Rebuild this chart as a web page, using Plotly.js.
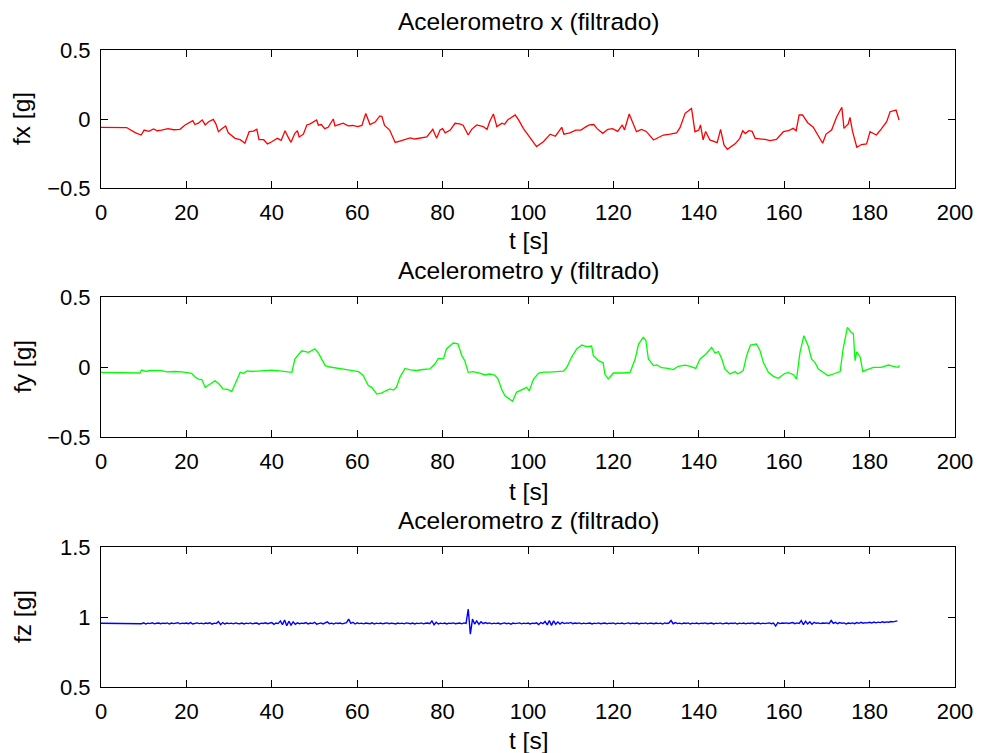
<!DOCTYPE html>
<html>
<head>
<meta charset="utf-8">
<script src="https://cdn.plot.ly/plotly-3.0.1.min.js"></script>
<style>
  html, body { margin: 0; padding: 0; background: #fff; }
  #chart { width: 984px; height: 753px; }
</style>
</head>
<body>
<div id="chart"></div>
<script>
// Filtered accelerometer readings, three axes, time in seconds.

// x axis: sample times and values [g]
const tX = [0,3,6,8,9.4,10.1,11.2,12.3,13.2,14.2,15.7,17,18.5,19.7,20.6,21.5,22,22.8,23.7,24.4,25.2,26.3,26.9,27.5,28.3,29.2,29.8,31.4,32.6,33.7,34.7,35.7,36.5,37,38.1,39,40,41.3,42.2,43.1,43.8,44.5,45.4,46,46.4,47.4,48.2,49,50.5,50.9,51.6,52.4,53.2,54.4,54.8,55.8,56.7,57.9,59,60.1,61.1,62,63,64.2,65.3,65.8,66.4,67.6,68.9,70,71.2,72.4,73.5,74.7,76.3,77.7,78.6,79.4,80,80.6,81.8,82.9,84,84.8,86,86.8,88,89.5,90.4,91,91.9,92.7,93.9,94.5,95.3,97,97.8,98.9,100.5,102,103.6,105.2,106.4,107.2,107.9,108.4,109.8,111.2,112.4,113.6,114.4,115.4,116.2,117.5,118.7,119.8,121,122.1,122.6,123.7,124.6,125.4,126.6,127.7,129.4,130.6,131.7,133.3,134.8,135.6,136.8,138.3,139.1,140,140.4,141,141.6,142.6,144.3,145.1,145.9,146.7,147.7,148.5,149.6,150.3,150.9,151.7,152.5,153.2,155.5,156.7,158.2,159,159.8,161,162.1,162.8,163.5,164.3,165.5,166.8,168,169,169.8,171.1,172.3,172.9,173.5,174,175,175.4,176,177,178.1,179.3,180.1,180.9,181.6,182.8,184,184.8,186.2,186.9];
const fx = [-0.06,-0.06,-0.062,-0.099,-0.116,-0.08,-0.09,-0.072,-0.085,-0.08,-0.07,-0.078,-0.075,-0.043,-0.03,-0.012,-0.04,-0.03,-0.007,-0.043,-0.02,-0.003,-0.035,-0.092,-0.07,-0.05,-0.1,-0.14,-0.15,-0.176,-0.092,-0.088,-0.075,-0.15,-0.15,-0.18,-0.165,-0.14,-0.155,-0.085,-0.13,-0.169,-0.104,-0.085,-0.13,-0.11,-0.043,-0.035,-0.007,-0.045,-0.04,-0.07,-0.06,0.0,-0.05,-0.04,-0.03,-0.05,-0.047,-0.055,-0.047,0.04,-0.04,-0.022,0.022,0.018,-0.047,-0.08,-0.17,-0.16,-0.147,-0.137,-0.145,-0.14,-0.13,-0.075,-0.14,-0.08,-0.07,-0.1,-0.08,-0.031,-0.035,-0.045,-0.116,-0.075,-0.043,-0.055,-0.075,-0.02,0.036,-0.055,-0.03,-0.038,-0.006,0.029,-0.006,-0.068,-0.14,-0.2,-0.165,-0.11,-0.125,-0.085,-0.06,-0.11,-0.1,-0.08,-0.08,-0.055,-0.043,-0.04,-0.07,-0.104,-0.075,-0.07,-0.09,-0.043,-0.08,0.036,-0.03,-0.092,-0.075,-0.09,-0.152,-0.13,-0.116,-0.11,-0.1,-0.063,0.041,0.077,-0.092,-0.08,-0.043,-0.152,-0.09,-0.152,-0.171,-0.075,-0.188,-0.22,-0.195,-0.18,-0.14,-0.085,-0.105,-0.085,-0.09,-0.14,-0.148,-0.157,-0.148,-0.116,-0.092,-0.085,-0.068,-0.085,0.029,0.029,-0.027,-0.06,-0.128,-0.176,-0.109,-0.08,0.017,0.053,0.085,-0.068,-0.035,0.012,-0.09,-0.205,-0.185,-0.181,-0.092,-0.105,-0.116,-0.07,-0.02,0.053,0.065,-0.007];

// y axis: sample times and values [g]
const tY = [0,3,6.4,8.5,9.1,9.5,10.5,11.5,13.3,14.2,15.4,17.4,19,20,21.2,22,22.8,23.6,24.4,25.5,26.7,27.6,28.6,29.7,30.6,31.2,32.6,33.4,34.2,35.4,37.6,40,42.3,44.7,45.4,47,48.6,50.1,51,52.5,53.6,54.8,56.4,57.9,60.3,61.4,62.6,63.4,64.6,65.8,66.7,67.7,68.5,69.2,70,71.2,72.4,73.9,75.4,77,78.2,79,80.2,80.9,82.5,83.6,84.5,85.2,86,87.1,88.7,89.9,91,92.2,93,93.8,94.6,95.4,96.4,97.3,98.5,99.7,100.3,101.3,102.5,103.7,105,106.7,108.3,109.1,110.2,111.4,112.6,113.7,114.9,115.3,116.5,117.6,118,118.8,120,122.2,123.9,125.1,125.9,127,127.6,128.2,129.4,130.2,131.3,132.8,134,135.2,136.8,138,139.3,140.3,141.7,143,143.8,144.6,145.4,146.1,147.3,148.5,149.1,150.4,151.2,152.1,153.5,154.3,155.1,156.3,157.5,158.6,160.2,161,162.2,162.9,163.7,164.6,165.6,166.4,167.2,168,169.2,170.3,171.5,173.1,173.8,174.8,175.6,176.2,176.6,177,177.8,178.4,179.3,180.9,182.7,184.4,185.6,186.7,187];
const fy = [-0.038,-0.038,-0.04,-0.042,-0.043,-0.022,-0.032,-0.025,-0.028,-0.026,-0.035,-0.032,-0.035,-0.04,-0.045,-0.07,-0.086,-0.09,-0.145,-0.123,-0.098,-0.12,-0.157,-0.16,-0.176,-0.135,-0.038,-0.045,-0.028,-0.032,-0.026,-0.022,-0.03,-0.038,0.057,0.116,0.105,0.129,0.095,0.01,0.0,-0.005,-0.01,-0.02,-0.033,-0.06,-0.133,-0.145,-0.193,-0.185,-0.17,-0.157,-0.165,-0.145,-0.074,-0.01,-0.02,-0.025,-0.018,-0.014,0.021,0.062,0.058,0.129,0.171,0.165,0.081,0.045,-0.038,-0.033,-0.043,-0.057,-0.05,-0.057,-0.086,-0.157,-0.205,-0.22,-0.245,-0.181,-0.162,-0.145,-0.17,-0.086,-0.043,-0.036,-0.036,-0.033,-0.03,-0.002,0.069,0.129,0.157,0.145,0.15,0.081,0.045,0.03,-0.05,-0.086,-0.043,-0.043,-0.038,0.057,0.164,0.212,0.19,0.057,0.01,0.015,-0.005,-0.01,-0.019,0.005,0.014,0.005,-0.01,0.057,0.093,0.14,0.1,0.11,0.057,-0.014,-0.05,-0.033,-0.05,-0.026,0.081,0.157,0.164,0.12,0.033,-0.038,-0.067,-0.081,-0.045,-0.04,-0.055,-0.086,0.105,0.224,0.152,0.057,0.033,-0.014,-0.038,-0.062,-0.05,-0.033,0.129,0.283,0.25,0.236,0.045,0.109,0.07,-0.033,-0.02,-0.002,-0.002,0.014,0.005,-0.002,0.012];

// z axis: values [g], one every zStep seconds starting at t = 0
const zStep = 0.5;
const fz = [
  0.955,0.955,0.954,0.955,0.955,0.954,0.955,0.955,0.954,0.955,0.955,0.954,0.955,0.953,0.955,0.954,0.956,0.953,0.957,0.952,
  0.958,0.950,0.956,0.953,0.959,0.951,0.955,0.957,0.952,0.956,0.954,0.958,0.950,0.957,0.953,0.955,0.959,0.951,0.956,0.954,
  0.957,0.952,0.960,0.950,0.955,0.958,0.953,0.956,0.951,0.957,0.954,0.959,0.949,0.956,0.953,0.968,0.945,0.960,0.950,0.957,
  0.953,0.956,0.951,0.958,0.954,0.952,0.957,0.950,0.956,0.953,0.958,0.951,0.955,0.957,0.949,0.956,0.954,0.959,0.952,0.955,
  0.960,0.948,0.957,0.953,0.972,0.945,0.978,0.938,0.970,0.942,0.965,0.948,0.958,0.952,0.956,0.954,0.960,0.950,0.957,0.953,
  0.962,0.949,0.956,0.958,0.951,0.957,0.965,0.952,0.956,0.950,0.958,0.954,0.957,0.951,0.955,0.960,0.985,0.955,0.962,0.950,
  0.958,0.953,0.956,0.951,0.957,0.954,0.952,0.958,0.950,0.956,0.953,0.957,0.951,0.955,0.958,0.952,0.956,0.954,0.950,0.957,
  0.953,0.956,0.951,0.958,0.954,0.952,0.957,0.950,0.956,0.953,0.958,0.951,0.955,0.957,0.952,0.972,0.945,0.962,0.950,0.956,
  0.953,0.957,0.950,0.956,0.954,0.958,0.952,0.955,0.957,0.951,0.958,0.955,1.057,0.878,0.985,0.950,0.972,0.948,0.966,0.952,
  0.960,0.954,0.958,0.951,0.956,0.953,0.957,0.950,0.955,0.958,0.952,0.956,0.949,0.957,0.953,0.955,0.958,0.951,0.956,0.953,
  0.957,0.950,0.956,0.954,0.958,0.946,0.960,0.952,0.968,0.944,0.975,0.940,0.972,0.948,0.965,0.950,0.962,0.953,0.958,0.955,
  0.961,0.952,0.957,0.954,0.958,0.951,0.956,0.953,0.955,0.957,0.950,0.956,0.953,0.958,0.952,0.955,0.957,0.951,0.956,0.954,
  0.958,0.950,0.956,0.953,0.957,0.951,0.955,0.958,0.952,0.956,0.954,0.957,0.950,0.956,0.953,0.958,0.951,0.956,0.955,0.952,
  0.957,0.953,0.956,0.950,0.958,0.954,0.957,0.975,0.952,0.960,0.953,0.956,0.951,0.957,0.954,0.958,0.950,0.956,0.953,0.957,
  0.951,0.956,0.954,0.958,0.952,0.955,0.957,0.950,0.956,0.953,0.958,0.951,0.955,0.957,0.952,0.956,0.954,0.958,0.950,0.956,
  0.953,0.957,0.951,0.956,0.954,0.958,0.952,0.955,0.957,0.951,0.956,0.953,0.955,0.958,0.952,0.956,0.935,0.960,0.953,0.957,
  0.955,0.958,0.954,0.957,0.960,0.952,0.958,0.954,0.975,0.945,0.970,0.950,0.966,0.948,0.962,0.955,0.958,0.953,0.957,0.955,
  0.958,0.953,0.975,0.955,0.962,0.952,0.960,0.955,0.958,0.950,0.957,0.954,0.958,0.952,0.960,0.955,0.962,0.956,0.960,0.958,
  0.962,0.957,0.964,0.958,0.963,0.960,0.966,0.961,0.965,0.963,0.968,0.965,0.970,0.972
];
const tZ = fz.map((_, i) => i * zStep);

// Labels
const panelTitles = ['Acelerometro x (filtrado)', 'Acelerometro y (filtrado)', 'Acelerometro z (filtrado)'];
const yLabels = ['fx [g]', 'fy [g]', 'fz [g]'];
const xLabel = 't [s]';
const xTicks = [0, 20, 40, 60, 80, 100, 120, 140, 160, 180, 200];
const yTicksXY = [-0.5, 0, 0.5];
const yTicksZ = [0.5, 1, 1.5];

const W = 984, H = 753;
const FONT = 'Liberation Sans, Arial, Helvetica, sans-serif';
const tickSize = 22;
const labelSize = 24.5;

// Panel frames in pixels: [top, bottom]
const frames = [[50, 188], [297, 437], [547, 687]];
const left = 101, right = 955;
const dom = f => [1 - f[1] / H, 1 - f[0] / H];
const xDom = [left / W, right / W];

function xAxis(anchor) {
  return {
    domain: xDom, anchor: anchor, range: [0, 200],
    tickvals: xTicks, ticktext: xTicks.map(String),
    ticks: 'inside', ticklen: 7, tickwidth: 1, tickcolor: '#000',
    showline: true, linecolor: '#000', linewidth: 1, mirror: 'ticks',
    showgrid: false, zeroline: false, ticklabelstandoff: 5,
    tickfont: { family: FONT, size: tickSize, color: '#000' }
  };
}
function yAxis(anchor, f, range, ticks) {
  return {
    domain: dom(f), anchor: anchor, range: range,
    tickvals: ticks, ticktext: ticks.map(v => v < 0 ? '\u2212' + Math.abs(v) : String(v)),
    ticks: 'inside', ticklen: 7, tickwidth: 1, tickcolor: '#000',
    showline: true, linecolor: '#000', linewidth: 1, mirror: 'ticks',
    showgrid: false, zeroline: false, ticklabelstandoff: 5,
    tickfont: { family: FONT, size: tickSize, color: '#000' }
  };
}

const traces = [
  { x: tX, y: fx, xaxis: 'x', yaxis: 'y', mode: 'lines', line: { color: '#ff0000', width: 1.3 }, hoverinfo: 'skip' },
  { x: tY, y: fy, xaxis: 'x2', yaxis: 'y2', mode: 'lines', line: { color: '#00ff00', width: 1.3 }, hoverinfo: 'skip' },
  { x: tZ, y: fz, xaxis: 'x3', yaxis: 'y3', mode: 'lines', line: { color: '#0000ff', width: 1.4 }, hoverinfo: 'skip' }
];

const annotations = [];
const titleY = [22, 270, 520];
const xTitleY = [241, 491, 740];
frames.forEach((f, i) => {
  annotations.push({
    text: panelTitles[i], xref: 'paper', yref: 'paper',
    x: (left + right) / 2 / W, y: 1 - titleY[i] / H,
    xanchor: 'center', yanchor: 'middle', showarrow: false,
    font: { family: FONT, size: labelSize, color: '#000' }
  });
  annotations.push({
    text: xLabel, xref: 'paper', yref: 'paper',
    x: (left + right) / 2 / W, y: 1 - xTitleY[i] / H,
    xanchor: 'center', yanchor: 'middle', showarrow: false,
    font: { family: FONT, size: labelSize, color: '#000' }
  });
  annotations.push({
    text: yLabels[i], xref: 'paper', yref: 'paper',
    x: 22 / W, y: 1 - (f[0] + f[1]) / 2 / H, textangle: -90,
    xanchor: 'center', yanchor: 'middle', showarrow: false,
    font: { family: FONT, size: labelSize, color: '#000' }
  });
});

const layout = {
  width: W, height: H,
  margin: { l: 0, r: 0, t: 0, b: 0 },
  paper_bgcolor: '#fff', plot_bgcolor: '#fff',
  showlegend: false,
  xaxis: xAxis('y'), yaxis: yAxis('x', frames[0], [-0.5, 0.5], yTicksXY),
  xaxis2: xAxis('y2'), yaxis2: yAxis('x2', frames[1], [-0.5, 0.5], yTicksXY),
  xaxis3: xAxis('y3'), yaxis3: yAxis('x3', frames[2], [0.5, 1.5], yTicksZ),
  annotations: annotations
};

Plotly.newPlot('chart', traces, layout, { staticPlot: true, displayModeBar: false });
</script>
</body>
</html>
